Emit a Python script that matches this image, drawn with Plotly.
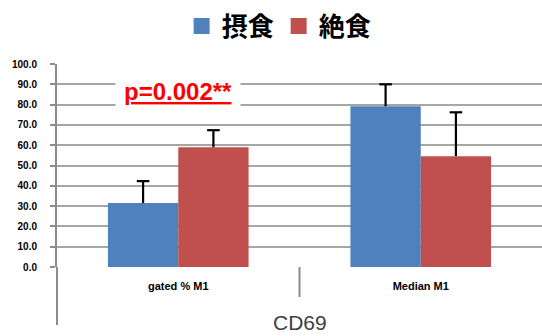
import plotly.graph_objects as go

categories = ["gated % M1", "Median M1"]
series_names = ["摂食", "絶食"]
fed_values = [31.5, 79.2]
fed_err = [10.8, 10.8]
fasted_values = [59.0, 54.6]
fasted_err = [8.4, 21.6]
colors = ["#4F81BD", "#C0504D"]
group_label = "CD69"
p_labels = ["p=0.002**", "p=0.06"]
y_ticks = [0, 10, 20, 30, 40, 50, 60, 70, 80, 90, 100]

BARGAP = 0.42
xpos = list(range(len(categories)))
half = (1 - BARGAP) / 4  # centre offset of each bar within its group

fig = go.Figure()
series = [(series_names[0], fed_values, fed_err, colors[0], -half),
          (series_names[1], fasted_values, fasted_err, colors[1], half)]
for name, vals, errs, col, off in series:
    fig.add_trace(go.Bar(
        x=xpos, y=vals, name=name, marker=dict(color=col, line=dict(width=0)),
        showlegend=False,
        error_y=dict(type="data", array=errs, arrayminus=[0] * len(errs), symmetric=False,
                     color="black", thickness=2.2, width=0),
    ))
for name, vals, errs, col, off in series:
    # top caps of the one-sided error bars
    fig.add_trace(go.Scatter(
        x=[i + off for i in xpos], y=[v + e for v, e in zip(vals, errs)],
        mode="markers", showlegend=False, hoverinfo="skip",
        marker=dict(symbol="line-ew", size=9, line=dict(color="black", width=2.2)),
    ))
for name, vals, errs, col, off in series:
    fig.add_trace(go.Scatter(
        x=[None], y=[None], mode="markers", name=name,
        marker=dict(symbol="square", size=16, color=col),
    ))

GRAY = "#8C8C8C"
fig.update_layout(
    width=542, height=336,
    margin=dict(l=57, r=0, t=64, b=69, autoexpand=False),
    paper_bgcolor="white", plot_bgcolor="white",
    barmode="group", bargap=BARGAP, bargroupgap=0,
    legend=dict(orientation="h", x=0.458, xanchor="center", y=1.187, yanchor="middle",
                font=dict(family="Noto Sans CJK JP", size=26, color="black", weight="bold"),
                itemclick=False, tracegroupgap=0),
    font=dict(family="Liberation Sans"),
)
fig.update_yaxes(
    range=[0, 100], tickvals=y_ticks, tickformat=".1f", automargin=False,
    showgrid=True, gridcolor="#A6A6A6", gridwidth=1.5,
    showline=True, linecolor=GRAY, linewidth=2,
    ticks="outside", ticklen=5, tickcolor=GRAY, tickwidth=1.5,
    ticklabelstandoff=11,
    tickfont=dict(family="Liberation Sans", size=10, color="black", weight="bold"),
    zeroline=False,
)
fig.update_xaxes(
    range=[-0.5, 1.5], tickvals=xpos, ticktext=categories, automargin=False,
    showgrid=False, zeroline=False, showline=False, ticks="",
    ticklabelstandoff=11,
    tickfont=dict(family="Liberation Sans", size=11, color="black", weight="bold"),
)

# category divider and extended left axis (multi-level category axis look)
fig.add_shape(type="line", xref="x", yref="paper", x0=0.5, x1=0.5, y0=0, y1=-0.148,
              line=dict(color=GRAY, width=2))
fig.add_shape(type="line", xref="paper", yref="paper", x0=0, x1=0, y0=0, y1=-0.286,
              line=dict(color=GRAY, width=2))

fig.add_annotation(text=group_label, xref="paper", yref="paper", x=0.5, y=-0.271,
                   showarrow=False, yanchor="middle",
                   font=dict(family="Liberation Sans", size=21, color="#404040"))

fig.add_annotation(text="<u>" + p_labels[0] + "</u>", xref="x", yref="y", x=0, y=86.5,
                   showarrow=False, yanchor="middle", bgcolor="white", borderpad=8,
                   font=dict(family="Liberation Sans", size=24, color="#FF0000", weight="bold"))
fig.add_annotation(text=p_labels[1], xref="x", yref="y", x=1.09, y=102,
                   showarrow=False, yanchor="middle", bgcolor="white", borderpad=6,
                   font=dict(family="Liberation Sans", size=21, color="#262626", weight="bold"))

fig.write_html("out.html", config={"displayModeBar": False},
               post_script="document.body.style.margin='0';")
